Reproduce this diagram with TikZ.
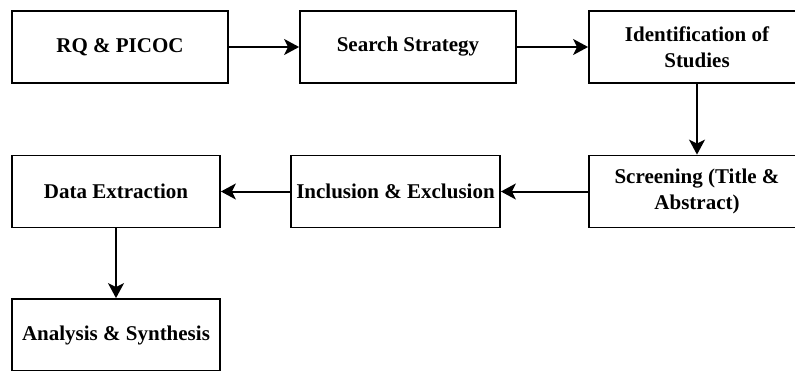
\documentclass[tikz,border=0pt]{standalone}
\usepackage{fontspec}
\setmainfont{Liberation Serif}
\usetikzlibrary{arrows.meta}
\begin{document}
\begin{tikzpicture}[x=1pt,y=-1pt,
  box/.style={draw=black,line width=1.8pt,rectangle,inner sep=0pt,
    minimum height=72pt,align=center,
    font=\fontsize{21}{26}\selectfont\bfseries},
  flow/.style={line width=2pt,-{Stealth[length=15pt,width=16pt,inset=4pt]}}]
\useasboundingbox (0,0) rectangle (795,370);
\clip (0,0) rectangle (795,370);
\node[box,minimum width=216pt] (rq) at (120,47) {RQ \& PICOC};
\node[box,minimum width=216pt] (ss) at (408,47) {Search Strategy};
\node[box,minimum width=216pt] (id) at (697,47) {Identification of\\Studies};
\node[box,minimum width=216pt] (sc) at (697,191.5) {Screening (Title \&\\Abstract)};
\node[box,minimum width=209pt] (ie) at (395.5,191.5) {Inclusion \& Exclusion};
\node[box,minimum width=208pt] (de) at (116,191.5) {Data Extraction};
\node[box,minimum width=208pt] (as) at (116,335) {Analysis \& Synthesis};
\draw[flow] (rq) -- (ss);
\draw[flow] (ss) -- (id);
\draw[flow] (id) -- (sc);
\draw[flow] (sc) -- (ie);
\draw[flow] (ie) -- (de);
\draw[flow] (de) -- (as);
\end{tikzpicture}
\end{document}
